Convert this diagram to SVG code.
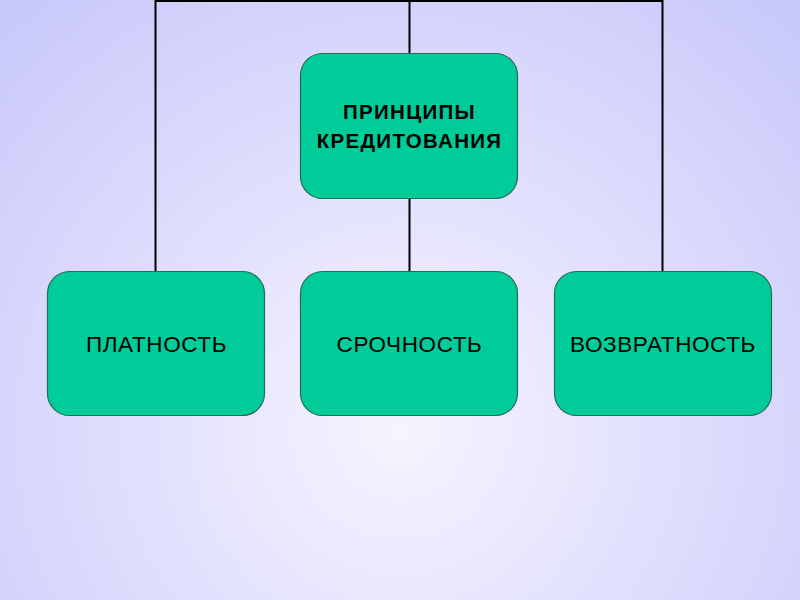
<svg xmlns="http://www.w3.org/2000/svg" width="800" height="600" viewBox="0 0 800 600">
<defs>
<radialGradient id="bg" gradientUnits="userSpaceOnUse" cx="400" cy="430" r="600">
<stop offset="0" stop-color="#f6f4ff"/>
<stop offset="1" stop-color="#c6c6fa"/>
</radialGradient>
<style>
.box{fill:#00cc99;stroke:#2a6a55;stroke-width:1.2}
.conn{stroke:#000;stroke-width:2;fill:none}
.t{font-family:"Liberation Sans",Arial,sans-serif;fill:#000;text-anchor:middle}
.tb{font-size:20.5px;font-weight:bold;letter-spacing:1.3px}
.tr{font-size:22.5px;letter-spacing:0.6px}
</style>
</defs>
<rect width="800" height="600" fill="url(#bg)"/>
<g id="connectors">
<polyline class="conn" points="155.5,271 155.5,1 662.5,1 662.5,271"/>
<line class="conn" x1="409.5" y1="1" x2="409.5" y2="53"/>
<line class="conn" x1="409.5" y1="198" x2="409.5" y2="271"/>
</g>
<g id="root">
<rect class="box" x="300.5" y="53.5" width="217" height="145" rx="22"/>
<text class="t tb" x="409.5" y="119">ПРИНЦИПЫ</text>
<text class="t tb" x="409.5" y="148">КРЕДИТОВАНИЯ</text>
</g>
<g id="platnost">
<rect class="box" x="47.5" y="271.5" width="217" height="144" rx="22"/>
<text class="t tr" x="156.5" y="352">ПЛАТНОСТЬ</text>
</g>
<g id="srochnost">
<rect class="box" x="300.5" y="271.5" width="217" height="144" rx="22"/>
<text class="t tr" x="409.5" y="352">СРОЧНОСТЬ</text>
</g>
<g id="vozvratnost">
<rect class="box" x="554.5" y="271.5" width="217" height="144" rx="22"/>
<text class="t tr" x="663" y="352">ВОЗВРАТНОСТЬ</text>
</g>
</svg>
